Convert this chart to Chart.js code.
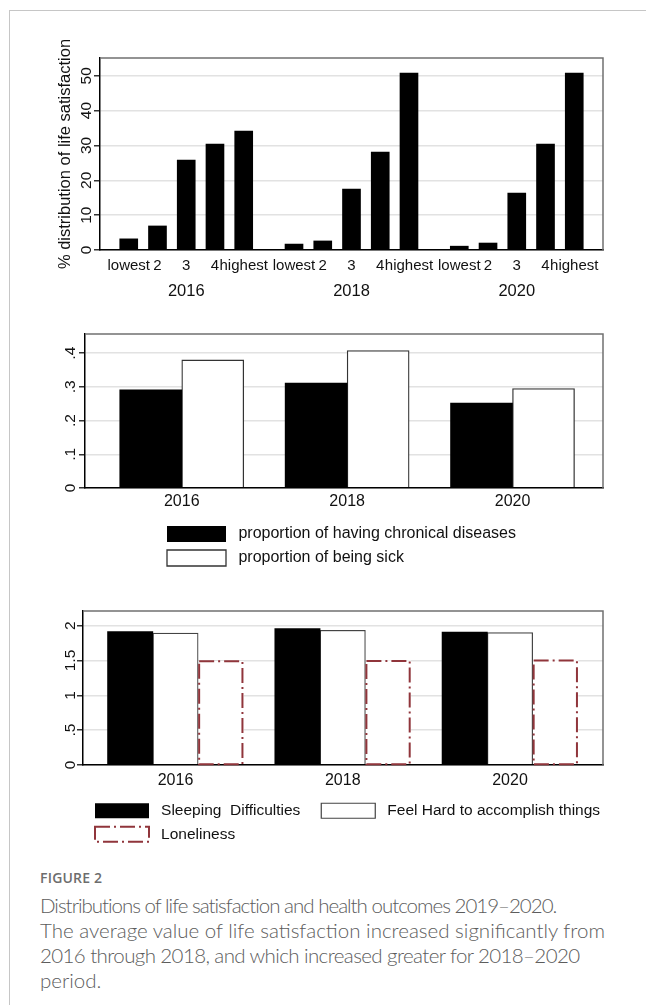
<!DOCTYPE html>
<html>
<head>
<meta charset="utf-8">
<title>Figure 2</title>
<script src="https://cdn.jsdelivr.net/npm/chart.js@4.4.1/dist/chart.umd.min.js"></script>
<style>
  html, body { margin: 0; padding: 0; background: #fff; }
  body { width: 646px; height: 1005px; position: relative; overflow: hidden; }
  .frame { position: absolute; left: 9px; top: 10px; width: 720px; height: 1100px;
           border-left: 1.5px solid #c6c6c6; border-top: 1.5px solid #c6c6c6; }
  .box { position: absolute; left: 0; width: 646px; }
  .box canvas { display: block; }
  #fig-label { position: absolute; left: 40px; top: 868px; font: 600 14px 'Open Sans', sans-serif;
               color: #6d6d6d; letter-spacing: 0.2px; }
  #caption { position: absolute; left: 40px; top: 893px; font: 300 20.5px Lato, 'Open Sans', sans-serif;
             line-height: 25px; color: #5c5c5c; white-space: nowrap; }
  #caption .l1 { letter-spacing: -1px; }
  #caption .l3 { letter-spacing: -0.6px; }
</style>
</head>
<body>
<div class="frame"></div>

<div class="box" style="top:30px;height:280px"><canvas id="sat-chart" width="646" height="280"></canvas></div>
<div class="box" style="top:320px;height:260px"><canvas id="health-chart" width="646" height="260"></canvas></div>
<div class="box" style="top:600px;height:256px"><canvas id="mood-chart" width="646" height="256"></canvas></div>

<div id="fig-label">FIGURE 2</div>
<div id="caption">
  <div class="l1">Distributions of life satisfaction and health outcomes 2019–2020.</div>
  <div>The average value of life satisfaction increased significantly from</div>
  <div class="l3">2016 through 2018, and which increased greater for 2018–2020</div>
  <div>period.</div>
</div>

<script>
// data
const YEARS = ['2016', '2018', '2020'];
const SAT_LEVELS = ['lowest', '2', '3', '4', 'highest'];
const SAT_2016 = [3.2, 6.9, 25.8, 30.4, 34.1];
const SAT_2018 = [1.7, 2.6, 17.5, 28.1, 50.8];
const SAT_2020 = [1.1, 2.0, 16.3, 30.4, 50.8];
const SAT_TICKS = [0, 10, 20, 30, 40, 50];

const CHRONIC = [0.291, 0.311, 0.252];
const SICK = [0.380, 0.408, 0.295];
const HEALTH_TICKS = [0, 0.1, 0.2, 0.3, 0.4];

const SLEEP = [1.913, 1.957, 1.908];
const HARD = [1.894, 1.933, 1.899];
const LONELY = [1.489, 1.494, 1.499];
const MOOD_TICKS = [0, 0.5, 1, 1.5, 2];

const GROUP_STEP = 5.75;           // slot distance between year groups in chart 1
const LONELY_RED = '#90353b';
const LONELY_DASH = [15, 4, 2, 4];

Chart.defaults.font.family = "'Liberation Sans', Arial, Helvetica, sans-serif";
Chart.defaults.font.size = 15.5;
Chart.defaults.color = '#111';
Chart.defaults.animation = false;

// Stata style numbers: .1 .5 1.5
const stataNum = v => {
  const s = String(+v.toFixed(2));
  return s.startsWith('0.') ? s.slice(1) : s;
};

// grey top/right edges of the plot region
const plotFrame = {
  id: 'plotFrame',
  afterDraw(chart) {
    const { ctx, chartArea: a } = chart;
    ctx.save();
    ctx.strokeStyle = '#707070';
    ctx.lineWidth = 1.5;
    ctx.beginPath();
    ctx.moveTo(a.left, a.top);
    ctx.lineTo(a.right, a.top);
    ctx.lineTo(a.right, a.bottom);
    ctx.stroke();
    ctx.restore();
  }
};

// dash-dot outline for hollow bars (bar elements can't dash their borders)
const dashedBars = {
  id: 'dashedBars',
  afterDraw(chart, args, opts) {
    if (opts.dataset == null) return;
    const { ctx } = chart;
    ctx.save();
    ctx.strokeStyle = opts.color;
    ctx.lineWidth = 2;
    ctx.setLineDash(opts.dash);
    chart.getDatasetMeta(opts.dataset).data.forEach(bar => {
      const { x, y, base, width } = bar.getProps(['x', 'y', 'base', 'width'], true);
      ctx.strokeRect(x - width / 2 + 1, y, width - 2, base - y);
    });
    ctx.restore();
  }
};

// legend sits left-aligned under the plot, not at the canvas edge
const legendShift = {
  id: 'legendShift',
  afterLayout(chart, args, opts) {
    if (!chart.legend) return;
    if (opts.left != null) chart.legend.left = opts.left;
    if (opts.right != null) chart.legend.right = opts.right;
  }
};

function yAxis({ ticks, max, width, pad, title }) {
  return {
    type: 'linear',
    position: 'left',
    min: 0,
    max,
    afterFit: s => { s.width = width; },
    afterBuildTicks: s => { s.ticks = ticks.map(v => ({ value: v })); },
    grid: { color: '#e2e2e2', lineWidth: 1.6, tickLength: 6, tickColor: '#000', tickWidth: 1.2 },
    border: { color: '#000', width: 1.5, z: 1 },
    ticks: { minRotation: 90, maxRotation: 90, crossAlign: 'center', padding: pad, color: '#111',
             callback: v => stataNum(v) },
    title: title
      ? { display: true, text: title, color: '#111', font: { size: 16.5 }, padding: { top: 6, bottom: 0 } }
      : { display: false },
  };
}

function yearAxis(min, max, pad) {
  return {
    type: 'linear',
    position: 'bottom',
    offset: false,
    min,
    max,
    afterFit: s => { s.height = 30; },
    afterBuildTicks: s => { s.ticks = YEARS.map((_, i) => ({ value: i })); },
    grid: { display: false, drawTicks: false, offset: false },
    border: { color: '#000', width: 1.5, z: 1 },
    ticks: { autoSkip: false, maxRotation: 0, padding: pad, font: { size: 16 }, color: '#111',
             callback: (v, i) => YEARS[i] },
  };
}

// ---- chart 1: life satisfaction distribution ----
const satPoints = [SAT_2016, SAT_2018, SAT_2020]
  .flatMap((vals, g) => vals.map((v, i) => ({ x: g * GROUP_STEP + i, y: v })));

new Chart(document.getElementById('sat-chart'), {
  type: 'bar',
  data: {
    datasets: [{ data: satPoints, backgroundColor: '#000', borderWidth: 0, barThickness: 18 }],
  },
  options: {
    responsive: false,
    layout: { padding: { left: 50, right: 43, top: 28, bottom: 8 } },
    plugins: { legend: { display: false }, tooltip: { enabled: false } },
    scales: {
      x: {
        type: 'linear', position: 'bottom', offset: false, min: -1, max: 16.5, weight: 0,
        afterFit: s => { s.height = 28; },
        afterBuildTicks: s => { s.ticks = satPoints.map(p => ({ value: p.x })); },
        grid: { display: false, drawTicks: false, offset: false },
        border: { color: '#000', width: 1.5, z: 1 },
        ticks: { autoSkip: false, maxRotation: 0, padding: 7, font: { size: 15 }, color: '#111',
                 callback: (v, i) => SAT_LEVELS[i % SAT_LEVELS.length] },
      },
      xYear: {
        type: 'linear', position: 'bottom', offset: false, min: -1, max: 16.5, weight: 1,
        afterFit: s => { s.height = 24; },
        afterBuildTicks: s => { s.ticks = YEARS.map((_, g) => ({ value: g * GROUP_STEP + 2 })); },
        grid: { display: false, drawTicks: false, offset: false },
        border: { display: false },
        ticks: { autoSkip: false, maxRotation: 0, padding: 4, font: { size: 16.5 }, color: '#111',
                 callback: (v, i) => YEARS[i] },
      },
      y: yAxis({ ticks: SAT_TICKS, max: 55.1, width: 50, pad: -1.5,
                 title: '% distribution of life satisfaction' }),
    },
  },
  plugins: [plotFrame],
});

// ---- chart 2: chronic disease / being sick ----
new Chart(document.getElementById('health-chart'), {
  type: 'bar',
  data: {
    datasets: [
      { label: ' proportion of having chronical diseases', data: CHRONIC.map((v, i) => ({ x: i, y: v })),
        backgroundColor: '#000', borderWidth: 0, barThickness: 62 },
      { label: ' proportion of being sick', data: SICK.map((v, i) => ({ x: i, y: v })),
        backgroundColor: '#fff', borderColor: '#333', borderWidth: 1.3, barThickness: 62 },
    ],
  },
  options: {
    responsive: false,
    layout: { padding: { left: 40, right: 43, top: 14, bottom: 4 } },
    plugins: {
      tooltip: { enabled: false },
      legend: {
        position: 'bottom', align: 'start',
        labels: { boxWidth: 59, boxHeight: 16, padding: 8, color: '#111', font: { size: 16 } },
      },
      legendShift: { left: 159, right: 603 },
    },
    scales: {
      x: yearAxis(-0.585, 2.547, 4),
      y: yAxis({ ticks: HEALTH_TICKS, max: 0.457, width: 45, pad: 1.5 }),
    },
  },
  plugins: [plotFrame, legendShift],
});

// ---- chart 3: sleeping / accomplishing / loneliness ----
new Chart(document.getElementById('mood-chart'), {
  type: 'bar',
  data: {
    datasets: [
      { label: ' Sleeping  Difficulties   ', data: SLEEP.map((v, i) => ({ x: i, y: v })),
        backgroundColor: '#000', borderWidth: 0, barThickness: 45.3 },
      { label: ' Feel Hard to accomplish things', data: HARD.map((v, i) => ({ x: i, y: v })),
        backgroundColor: '#fff', borderColor: '#444', borderWidth: 1.2, barThickness: 45.3 },
      { label: ' Loneliness', data: LONELY.map((v, i) => ({ x: i, y: v })),
        backgroundColor: '#fff', borderWidth: 0, barThickness: 45.3 },
    ],
  },
  options: {
    responsive: false,
    layout: { padding: { left: 40, right: 43, top: 11, bottom: 4 } },
    plugins: {
      tooltip: { enabled: false },
      legend: {
        position: 'bottom', align: 'start',
        labels: {
          boxWidth: 54, boxHeight: 15, padding: 8, color: '#111', font: { size: 15.5 },
          generateLabels: chart => {
            const items = Chart.defaults.plugins.legend.labels.generateLabels(chart);
            items[2].strokeStyle = LONELY_RED;
            items[2].lineWidth = 2;
            items[2].lineDash = LONELY_DASH;
            return items;
          },
        },
      },
      legendShift: { left: 87, right: 646 },
      dashedBars: { dataset: 2, color: LONELY_RED, dash: LONELY_DASH },
    },
    scales: {
      x: yearAxis(-0.553, 2.556, 6),
      y: yAxis({ ticks: MOOD_TICKS, max: 2.21, width: 43, pad: -4 }),
    },
  },
  plugins: [plotFrame, legendShift, dashedBars],
});
</script>
</body>
</html>
